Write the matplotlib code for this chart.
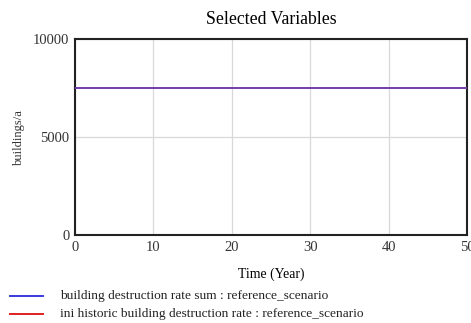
import matplotlib
matplotlib.use("Agg")
import matplotlib.pyplot as plt
from matplotlib.lines import Line2D

time = [0, 50]
destruction_rate_sum = [7500, 7500]
ini_historic_rate = [7500, 7500]
series_labels = ["building destruction rate sum : reference_scenario",
                 "ini historic building destruction rate : reference_scenario"]
xticks = [0, 10, 20, 30, 40, 50]
yticks = [0, 5000, 10000]

plt.rcParams['font.family'] = ['Liberation Serif', 'DejaVu Serif']

fig = plt.figure(figsize=(4.71, 3.23), dpi=100)
ax = fig.add_axes([75/471, 1-235/323, (467-75)/471, (235-39)/323])

ax.plot(time, destruction_rate_sum, color='#4a4ae8', lw=1.4, zorder=3)
ax.plot(time, ini_historic_rate, color='#e02020', lw=1.4, alpha=0.3, zorder=4)

ax.set_xlim(0, 50)
ax.set_ylim(0, 10000)
ax.set_xticks(xticks)
ax.set_yticks(yticks)
ax.set_xticklabels([str(t) for t in xticks], fontsize=10.5, color='#333333')
ax.set_yticklabels([str(t) for t in yticks], fontsize=10.5, color='#333333')
ax.tick_params(length=0, pad=4)
ax.grid(True, color='#d8d8d8', lw=0.9)
ax.set_axisbelow(True)
for s in ax.spines.values():
    s.set_linewidth(1.5)
    s.set_color('#222222')

ax.set_title("Selected Variables", fontsize=12.8, pad=11)
ax.set_xlabel("Time (Year)", fontsize=9.9, labelpad=10)
ax.set_ylabel("buildings/a", fontsize=9.0, color='#333333')
ax.yaxis.set_label_coords(-50/392, 0.5)

colors = ['#3a3ae0', '#e02020']
ys = [296, 314]
for c, y, lab in zip(colors, ys, series_labels):
    fy = 1 - y/323
    fig.add_artist(Line2D([10/471, 43/471], [fy, fy], color=c, lw=1.4))
    fig.text(60/471, fy, lab, fontsize=9.6, va='center', ha='left', color='#222222')

fig.savefig("out.png", dpi=100)
